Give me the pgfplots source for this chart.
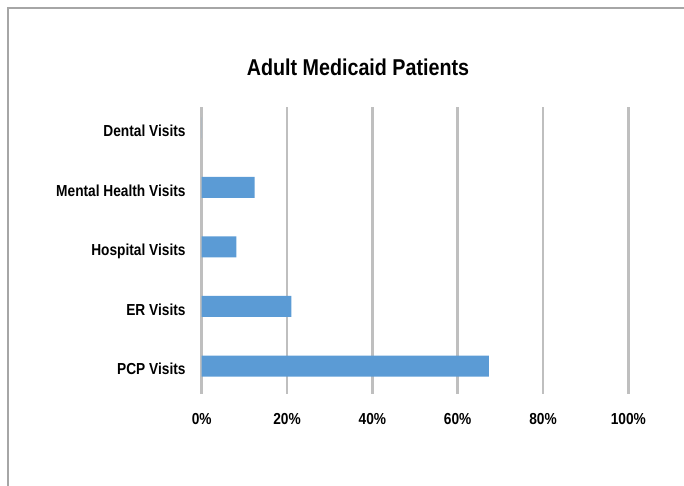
\documentclass[border=0pt]{standalone}
\usepackage{pgfplots}
\pgfplotsset{compat=1.18}
\usepackage{fontspec}
\setmainfont{Liberation Sans}[FakeStretch=0.86]
\definecolor{barblue}{HTML}{5B9BD5}
\definecolor{gridgray}{HTML}{BFBFBF}
\definecolor{framegray}{HTML}{A6A6A6}
\begin{document}
\begin{tikzpicture}[x=1bp,y=1bp]
  \useasboundingbox (0,0) rectangle (684,486);
  % outer chart frame (top and left edges)
  \draw[framegray, line width=1.5bp] (8,0) -- (8,478) -- (684,478);
  % title
  \node[font=\fontsize{23}{27}\selectfont\bfseries] at (358,419) {Adult Medicaid Patients};
  \begin{axis}[
    at={(201.7bp,92bp)}, anchor=south west,
    scale only axis, width=426.6bp, height=287bp,
    xbar, bar width=21bp,
    xmin=0, xmax=100,
    ymin=-0.47, ymax=4.35,
    xtick={0,20,40,60,80,100},
    xticklabels={0\%,20\%,40\%,60\%,80\%,100\%},
    ytick={0,1,2,3,4},
    yticklabels={PCP Visits,ER Visits,Hospital Visits,Mental Health Visits,Dental Visits},
    major tick length=0pt,
    axis line style={draw=none},
    xmajorgrids, ymajorgrids=false,
    major grid style={gridgray, line width=2.5bp},
    tick label style={font=\fontsize{16}{19}\selectfont\bfseries},
    xticklabel style={anchor=base, inner sep=0pt, yshift=-31bp},
    yticklabel style={anchor=base east, inner sep=0pt, xshift=-16bp, yshift=-8.7bp},
    /pgf/number format/assume math mode=true,
  ]
    \addplot[fill=barblue, draw=none] coordinates {
      (67.3,0) (21.0,1) (8.1,2) (12.4,3) (0,4)
    };
  \end{axis}
\end{tikzpicture}
\end{document}
